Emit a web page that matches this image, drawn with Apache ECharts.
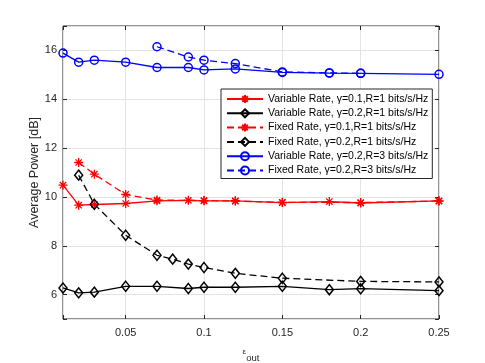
<!DOCTYPE html>
<html>
<head>
<meta charset="utf-8">
<script src="https://cdn.jsdelivr.net/npm/echarts@6/dist/echarts.min.js"></script>
<style>
  html, body { margin: 0; padding: 0; background: #fff; }
  #main { width: 485px; height: 363px; }
</style>
</head>
<body>
<div id="main"></div>
<script>
// outage probability values (x) for each curve
const xVarRed = [0.01, 0.02, 0.03, 0.05, 0.07, 0.09, 0.1, 0.12, 0.15, 0.18, 0.2, 0.25];
const yVarRed = [10.48, 9.66, 9.69, 9.73, 9.84, 9.86, 9.84, 9.84, 9.77, 9.81, 9.75, 9.84];

const xVarBlack = [0.01, 0.02, 0.03, 0.05, 0.07, 0.09, 0.1, 0.12, 0.15, 0.18, 0.2, 0.25];
const yVarBlack = [6.27, 6.07, 6.1, 6.34, 6.34, 6.25, 6.3, 6.3, 6.34, 6.2, 6.24, 6.16];

const xFixRed = [0.02, 0.03, 0.05, 0.07, 0.1, 0.12, 0.15, 0.2, 0.25];
const yFixRed = [11.41, 10.93, 10.1, 9.87, 9.85, 9.83, 9.78, 9.77, 9.83];

const xFixBlack = [0.02, 0.03, 0.05, 0.07, 0.08, 0.09, 0.1, 0.12, 0.15, 0.2, 0.25];
const yFixBlack = [10.89, 9.7, 8.43, 7.61, 7.45, 7.25, 7.11, 6.87, 6.67, 6.54, 6.52];

const xVarBlue = [0.01, 0.02, 0.03, 0.05, 0.07, 0.09, 0.1, 0.12, 0.15, 0.18, 0.2, 0.25];
const yVarBlue = [15.89, 15.52, 15.6, 15.52, 15.3, 15.3, 15.2, 15.24, 15.1, 15.07, 15.06, 15.02];

const xFixBlue = [0.07, 0.09, 0.1, 0.12, 0.15, 0.18, 0.2];
const yFixBlue = [16.15, 15.73, 15.6, 15.46, 15.12, 15.08, 15.06];

const names = [
  'Variable Rate, γ=0.1,R=1 bits/s/Hz',
  'Variable Rate, γ=0.2,R=1 bits/s/Hz',
  'Fixed Rate, γ=0.1,R=1 bits/s/Hz',
  'Fixed Rate, γ=0.2,R=1 bits/s/Hz',
  'Variable Rate, γ=0.2,R=3 bits/s/Hz',
  'Fixed Rate, γ=0.2,R=3 bits/s/Hz'
];

const star = 'path://M5,0 L5,10 M0,5 L10,5 M1.5,1.5 L8.5,8.5 M8.5,1.5 L1.5,8.5';
const axisCol = '#262626';
const font = 'Liberation Sans, Arial, Helvetica, sans-serif';

function pairs(xs, ys) {
  return xs.map((x, i) => [x, ys[i]]);
}

function mkSeries(name, xs, ys, color, marker, dashed) {
  let sym, size, item;
  if (marker === 'star') {
    sym = star; size = 9;
    item = { color: color, borderColor: color, borderWidth: 1.3 };
  } else if (marker === 'diamond') {
    sym = 'diamond'; size = [8, 10];
    item = { color: 'rgba(0,0,0,0)', borderColor: color, borderWidth: 1.5 };
  } else {
    sym = 'circle'; size = 8;
    item = { color: 'rgba(0,0,0,0)', borderColor: color, borderWidth: 1.5 };
  }
  return {
    name: name,
    type: 'line',
    data: pairs(xs, ys),
    symbol: sym,
    symbolSize: size,
    showAllSymbol: true,
    itemStyle: item,
    lineStyle: { color: color, width: 1.3, type: dashed ? [7, 4] : 'solid' },
    emphasis: { disabled: true },
    animation: false
  };
}

var myChart = echarts.init(document.getElementById('main'));

const option = {
  backgroundColor: '#fff',
  textStyle: { fontFamily: font },
  grid: {
    left: 63, right: 46, top: 26, bottom: 44,
    outerBoundsMode: 'none',
    show: true, borderColor: axisCol, borderWidth: 1, backgroundColor: '#fff'
  },
  legend: {
    orient: 'vertical',
    left: 221, top: 89,
    padding: [3, 4, 1, 5],
    itemWidth: 36, itemHeight: 10, itemGap: 0.3,
    backgroundColor: '#fff',
    borderColor: axisCol, borderWidth: 1,
    textStyle: { fontSize: 10.5, color: '#000', lineHeight: 14, fontFamily: font },
    data: names
  },
  xAxis: [
    {
      type: 'value', min: 0.01, max: 0.25, splitNumber: 5,
      axisLine: { show: false },
      axisTick: { show: true, inside: true, length: 4, lineStyle: { color: axisCol } },
      axisLabel: {
        color: axisCol, fontSize: 11, margin: 8,
        formatter: function (v) { return v < 0.04 ? '' : String(+v.toFixed(2)); }
      },
      splitLine: { show: true, lineStyle: { color: '#e3e3e3', width: 1 } },
      name: '{e|ε}{s|out}',
      nameLocation: 'middle',
      nameGap: 27,
      nameMoveOverlap: false,
      nameTextStyle: {
        rich: {
          e: { fontSize: 8, color: axisCol, padding: [0, 0, 5, 0] },
          s: { fontSize: 9.5, color: axisCol, padding: [7, 0, 0, 0] }
        }
      }
    },
    {
      type: 'value', position: 'top', min: 0.01, max: 0.25, splitNumber: 5,
      axisLine: { show: false },
      axisTick: { show: true, inside: true, length: 4, lineStyle: { color: axisCol } },
      axisLabel: { show: false },
      splitLine: { show: false }
    }
  ],
  yAxis: [
    {
      type: 'value', min: 5, max: 17, splitNumber: 6,
      axisLine: { show: false },
      axisTick: { show: true, inside: true, length: 4, lineStyle: { color: axisCol } },
      axisLabel: {
        color: axisCol, fontSize: 11, margin: 6,
        formatter: function (v) { return v % 2 === 0 ? String(v) : ''; }
      },
      splitLine: { show: true, lineStyle: { color: '#e3e3e3', width: 1 } },
      name: 'Average Power [dB]',
      nameLocation: 'middle',
      nameGap: 22,
      nameMoveOverlap: false,
      nameTextStyle: { fontSize: 12.5, color: axisCol }
    },
    {
      type: 'value', position: 'right', min: 5, max: 17, splitNumber: 6,
      axisLine: { show: false },
      axisTick: { show: true, inside: true, length: 4, lineStyle: { color: axisCol } },
      axisLabel: { show: false },
      splitLine: { show: false }
    }
  ],
  series: [
    mkSeries(names[0], xVarRed, yVarRed, '#ff0000', 'star', false),
    mkSeries(names[1], xVarBlack, yVarBlack, '#000000', 'diamond', false),
    mkSeries(names[2], xFixRed, yFixRed, '#ff0000', 'star', true),
    mkSeries(names[3], xFixBlack, yFixBlack, '#000000', 'diamond', true),
    mkSeries(names[4], xVarBlue, yVarBlue, '#0000ff', 'circle', false),
    mkSeries(names[5], xFixBlue, yFixBlue, '#0000ff', 'circle', true)
  ]
};

myChart.setOption(option);
</script>
</body>
</html>
